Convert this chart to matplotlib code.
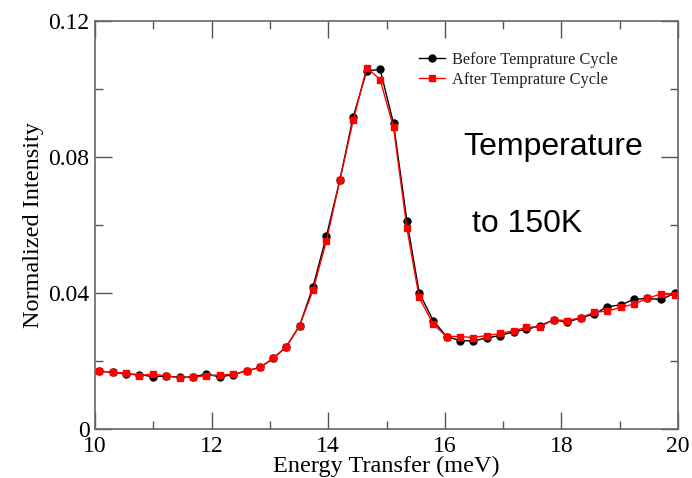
import matplotlib
matplotlib.use("Agg")
import matplotlib.pyplot as plt
from matplotlib.ticker import MultipleLocator

energy = [10.07, 10.30, 10.53, 10.76, 10.99, 11.22, 11.45, 11.68, 11.91, 12.14,
          12.37, 12.60, 12.83, 13.06, 13.28, 13.51, 13.74, 13.97, 14.20, 14.43,
          14.66, 14.89, 15.12, 15.35, 15.56, 15.80, 16.03, 16.26, 16.49, 16.72,
          16.95, 17.18, 17.40, 17.63, 17.87, 18.10, 18.33, 18.56, 18.79, 19.02,
          19.24, 19.47, 19.70, 19.95]

before = [0.0170, 0.0167, 0.0162, 0.0160, 0.0154, 0.0156, 0.0152, 0.0153, 0.0162, 0.0153,
          0.0160, 0.0171, 0.0181, 0.0208, 0.0242, 0.0304, 0.0419, 0.0568, 0.0733, 0.0919,
          0.1053, 0.1058, 0.0899, 0.0612, 0.0401, 0.0319, 0.0272, 0.0260, 0.0259, 0.0268,
          0.0275, 0.0286, 0.0293, 0.0304, 0.0321, 0.0314, 0.0327, 0.0338, 0.0360, 0.0365,
          0.0381, 0.0384, 0.0381, 0.0399]

after = [0.0170, 0.0167, 0.0164, 0.0157, 0.0162, 0.0156, 0.0151, 0.0153, 0.0157, 0.0159,
         0.0161, 0.0171, 0.0181, 0.0208, 0.0242, 0.0304, 0.0409, 0.0554, 0.0732, 0.0909,
         0.1063, 0.1028, 0.0887, 0.0590, 0.0387, 0.0308, 0.0272, 0.0272, 0.0269, 0.0275,
         0.0281, 0.0289, 0.0299, 0.0301, 0.0321, 0.0319, 0.0327, 0.0343, 0.0347, 0.0358,
         0.0367, 0.0384, 0.0397, 0.0394]

xticks = [10, 12, 14, 16, 18, 20]
yticks = [0, 0.04, 0.08, 0.12]
ytick_labels = ["0", "0.04", "0.08", "0.12"]

serif = ["Liberation Serif", "DejaVu Serif"]
sans = ["Liberation Sans", "DejaVu Sans"]

fig = plt.figure(figsize=(6.92, 4.78), dpi=100)
ax = fig.add_axes([0.1373, 0.1025, 0.8425, 0.8535])

ax.plot(energy, before, color="black", marker="o", markersize=5, linewidth=1.0,
        label="Before Temprature Cycle")
ax.plot(energy, after, color="red", marker="s", markersize=5, linewidth=1.0,
        label="After Temprature Cycle")

ax.set_xlim(10, 20)
ax.set_ylim(0, 0.12)
ax.set_xticks(xticks)
ax.set_xticklabels([str(v) for v in xticks])
ax.set_yticks(yticks)
ax.set_yticklabels(ytick_labels)
ax.xaxis.set_minor_locator(MultipleLocator(1))
ax.yaxis.set_minor_locator(MultipleLocator(0.02))

ax.tick_params(which="both", direction="in", top=True, right=True, colors="#555555",
               labelcolor="black")
ax.tick_params(which="major", length=12, width=1)
ax.tick_params(which="minor", length=6, width=1)
ax.tick_params(axis="x", which="major", pad=5)
ax.tick_params(axis="y", which="major", pad=4)
for lab in ax.get_xticklabels() + ax.get_yticklabels():
    lab.set_family(serif)
    lab.set_fontsize(17)
for s in ax.spines.values():
    s.set_color("#666666")
    s.set_linewidth(1.2)

ax.set_xlabel("Energy Transfer (meV)", family=serif, fontsize=17.5, labelpad=-1)
ax.set_ylabel("Normalized Intensity", family=serif, fontsize=17.5, labelpad=3)

leg = ax.legend(loc="upper left", bbox_to_anchor=(0.556, 0.925), frameon=False,
                prop={"family": serif, "size": 11.8}, handlelength=1.55,
                handletextpad=0.45, borderaxespad=0, borderpad=0, labelspacing=0.25)
for t in leg.get_texts():
    t.set_color("#222222")

ax.text(0.631, 0.6716, "Temperature", transform=ax.transAxes, family=sans,
        fontsize=23, color="black", va="baseline")
ax.text(0.646, 0.4836, "to 150K", transform=ax.transAxes, family=sans,
        fontsize=23, color="black", va="baseline")

fig.savefig("out.png", dpi=100)
